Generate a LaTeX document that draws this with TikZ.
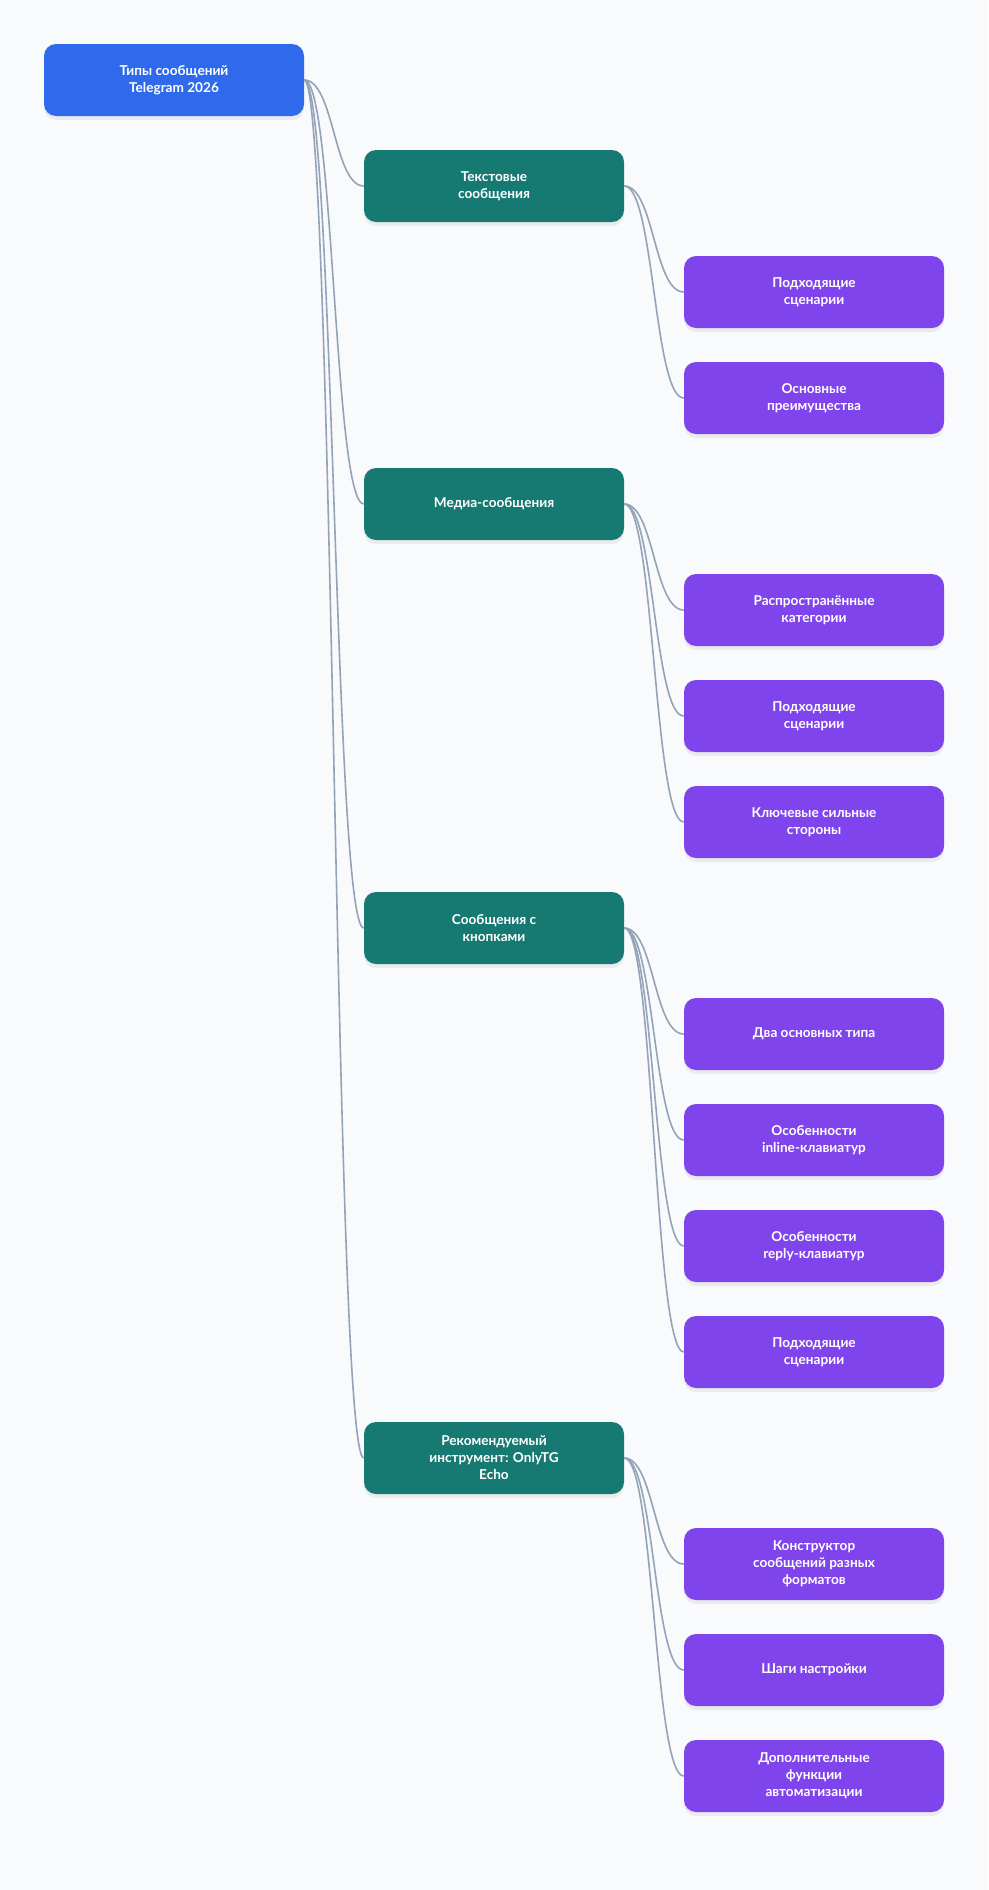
\documentclass[tikz,border=0pt]{standalone}
\usepackage{fontspec}
\setmainfont{Lato}
\usetikzlibrary{shadows}
\definecolor{mapbg}{HTML}{F8FAFC}
\definecolor{rootblue}{HTML}{2E6AEB}
\definecolor{topicteal}{HTML}{177A72}
\definecolor{leafviolet}{HTML}{8044EC}
\definecolor{linkgray}{HTML}{94A3B8}

\begin{document}
\begin{tikzpicture}[
  x=1pt,
  y=-1pt,
  box/.style={rounded corners=12pt,minimum width=260pt,minimum height=72pt,
    inner sep=0pt,text=white,align=center,
    font=\bfseries\fontsize{13.6}{17}\selectfont,
    drop shadow={shadow xshift=0pt,shadow yshift=-4pt,opacity=0.06,fill=black}},
  rootbox/.style={box,fill=rootblue},
  topicbox/.style={box,fill=topicteal},
  leafbox/.style={box,fill=leafviolet},
  link/.style={draw=linkgray,line width=1.6pt}
]
  % Canvas in pixel units of the reference.
  \fill[mapbg] (0,0) rectangle (988,1890);
  \useasboundingbox (0,0) rectangle (988,1890);

  % Root and the four topics.
  \node[rootbox] (root) at (174,80) {Типы сообщений\\Telegram 2026};
  \node[topicbox] (text) at (494,186) {Текстовые\\сообщения};
  \node[topicbox] (media) at (494,504) {Медиа-сообщения};
  \node[topicbox] (buttons) at (494,928) {Сообщения с\\кнопками};
  \node[topicbox] (tool) at (494,1458) {Рекомендуемый\\инструмент: OnlyTG\\Echo};

  % Leaves, one column at the right.
  \foreach \name/\parent/\y/\label in {
      textA/text/292/{Подходящие\\сценарии},
      textB/text/398/{Основные\\преимущества},
      mediaA/media/610/{Распространённые\\категории},
      mediaB/media/716/{Подходящие\\сценарии},
      mediaC/media/822/{Ключевые сильные\\стороны},
      buttonsA/buttons/1034/{Два основных типа},
      buttonsB/buttons/1140/{Особенности\\inline-клавиатур},
      buttonsC/buttons/1246/{Особенности\\reply-клавиатур},
      buttonsD/buttons/1352/{Подходящие\\сценарии},
      toolA/tool/1564/{Конструктор\\сообщений разных\\форматов},
      toolB/tool/1670/{Шаги настройки},
      toolC/tool/1776/{Дополнительные\\функции\\автоматизации}} {
    \node[leafbox] (\name) at (814,\y) {\label};
    \draw[link] (\parent.east) .. controls +(30,0) and +(-30,0) .. (\name.west);
  }

  % Root to topics.
  \foreach \t in {text,media,buttons,tool} {
    \draw[link] (root.east) .. controls +(30,0) and +(-30,0) .. (\t.west);
  }
\end{tikzpicture}
\end{document}
